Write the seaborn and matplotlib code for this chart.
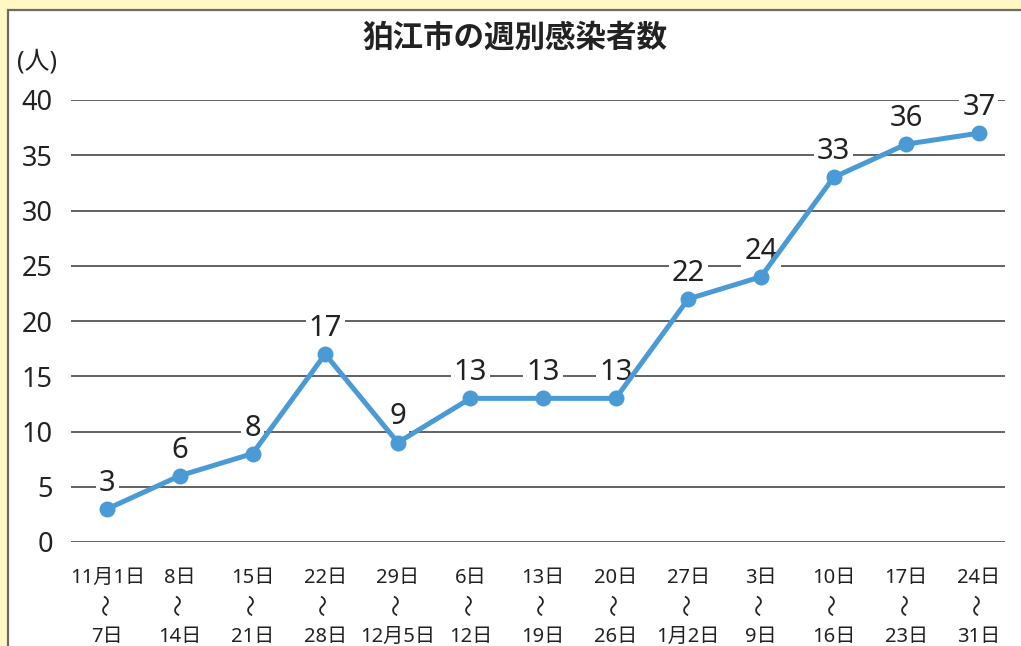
import matplotlib
matplotlib.use("Agg")
import matplotlib.pyplot as plt
from matplotlib.patches import Rectangle
import seaborn as sns
import pandas as pd

weeks_start = ["11月1日", "8日", "15日", "22日", "29日", "6日", "13日", "20日", "27日", "3日", "10日", "17日", "24日"]
weeks_end = ["7日", "14日", "21日", "28日", "12月5日", "12日", "19日", "26日", "1月2日", "9日", "16日", "23日", "31日"]
cases = [3, 6, 8, 17, 9, 13, 13, 13, 22, 24, 33, 36, 37]
y_ticks = [0, 5, 10, 15, 20, 25, 30, 35, 40]

title = "狛江市の週別感染者数"
unit = "(人)"
wave = "〜"

sns.set_theme(style="white")
FAM = ['Noto Sans', 'Noto Sans CJK JP', 'DejaVu Sans']
plt.rcParams['font.family'] = FAM
TXT = "#222222"

W, H = 1021, 646
fig = plt.figure(figsize=(W / 100, H / 100), dpi=100)
fig.patch.set_facecolor("#FFF7C4")
fig.patches.append(Rectangle((8 / W, -0.1), 1.2, (H - 10) / H + 0.1, transform=fig.transFigure,
                             facecolor="white", edgecolor="#6b6b6b", linewidth=1.6, zorder=-5))

ax = fig.add_axes([71 / W, 104 / H, (1005 - 71) / W, 442 / H])
ax.set_facecolor("none")
ax.set_zorder(2)

df = pd.DataFrame({"x": list(range(len(cases))), "y": cases})
sns.lineplot(data=df, x="x", y="y", ax=ax, color="#4A9AD6", linewidth=3.6,
             marker="o", markersize=11.5, markeredgewidth=0, zorder=3)

for i, v in enumerate(cases):
    ax.annotate(str(v), (i, v), xytext=(0, 13), textcoords="offset points",
                ha="center", va="baseline", fontsize=21, color=TXT, zorder=2,
                bbox=dict(boxstyle="square,pad=0.1", facecolor="white", edgecolor="none"))

ax.set_ylim(0, 40)
ax.set_xlim(-0.5, 12.36)
ax.set_yticks(y_ticks)
ax.set_yticklabels([str(t) for t in y_ticks], fontsize=19.5, color=TXT)
ax.tick_params(axis="y", length=0, pad=13)

pos = list(range(len(cases)))
ax.xaxis.remove_overlapping_locs = False
ax.set_xticks(pos)
ax.set_xticklabels(weeks_start, fontsize=14.5, color=TXT)
ax.set_xticks(pos, minor=True)
ax.set_xticklabels([wave] * len(pos), minor=True, fontsize=16, color=TXT,
                   rotation=90, family=['Noto Sans CJK JP', 'DejaVu Sans'])
ax.tick_params(axis="x", which="major", length=0, pad=18.5)
ax.tick_params(axis="x", which="minor", length=0, pad=37)

sec = ax.secondary_xaxis("bottom")
sec.set_xticks(pos)
sec.set_xticklabels(weeks_end, fontsize=14.5, color=TXT)
sec.tick_params(axis="x", length=0, pad=61)
for s in sec.spines.values():
    s.set_visible(False)

for s in ax.spines.values():
    s.set_visible(False)
ax.grid(False)
for t in y_ticks:
    ax.axhline(t, color="#555555", linewidth=1.3, zorder=1)
ax.set_xlabel("")
ax.set_ylabel("")

fig.text(515 / W, 1 - 38 / H, title, ha="center", va="center", fontsize=22,
         fontweight="bold", color=TXT, family=['Noto Sans CJK JP', 'DejaVu Sans'])
fig.text(17 / W, 1 - 62 / H, unit, ha="left", va="center", fontsize=18, color=TXT)

fig.savefig("out.png", dpi=100, facecolor=fig.get_facecolor())
